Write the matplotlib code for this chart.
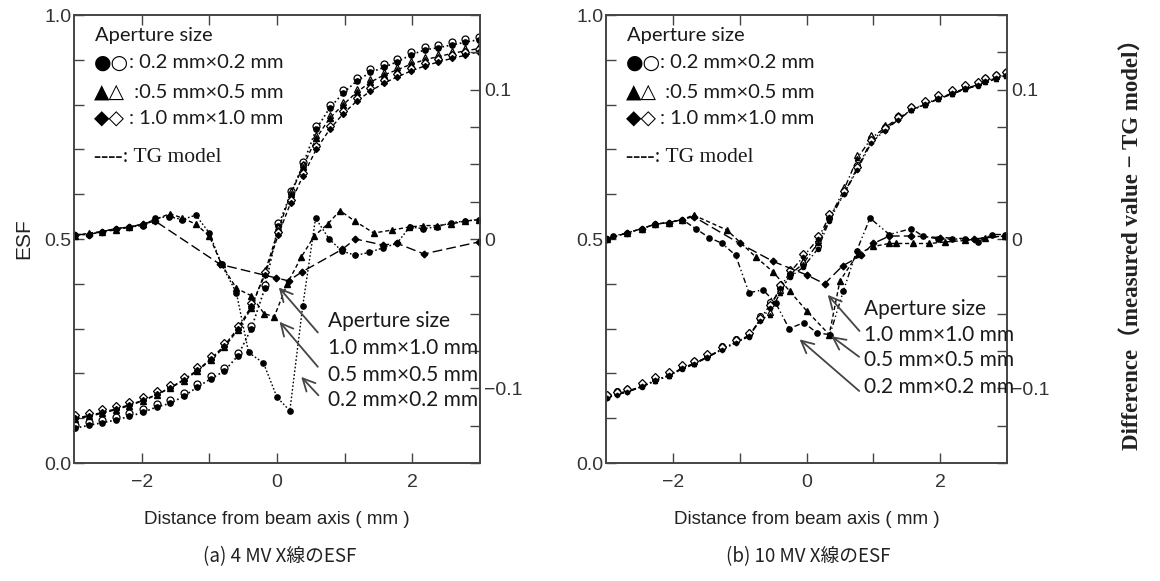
import matplotlib
matplotlib.use("Agg")
import matplotlib.pyplot as plt
from matplotlib.ticker import MultipleLocator, FixedLocator, FuncFormatter
from matplotlib.transforms import offset_copy

# ---------------- data: (a) 4 MV ----------------
x4 = [-2.98, -2.78, -2.58, -2.38, -2.18, -1.98, -1.78, -1.58, -1.38, -1.18, -0.98,
      -0.78, -0.58, -0.38, -0.18, 0.02, 0.20, 0.38, 0.58, 0.78, 0.98, 1.18, 1.38,
      1.58, 1.78, 1.98, 2.18, 2.38, 2.58, 2.78, 2.98]
esf4_02 = [0.078, 0.084, 0.090, 0.096, 0.104, 0.113, 0.125, 0.133, 0.149, 0.169, 0.188,
           0.205, 0.239, 0.300, 0.390, 0.530, 0.600, 0.665, 0.745, 0.793, 0.826, 0.853,
           0.872, 0.883, 0.896, 0.911, 0.922, 0.927, 0.933, 0.939, 0.945]
esf4_05 = [0.098, 0.104, 0.111, 0.119, 0.128, 0.139, 0.152, 0.167, 0.184, 0.205, 0.230,
           0.258, 0.297, 0.345, 0.425, 0.520, 0.600, 0.660, 0.725, 0.770, 0.800, 0.828,
           0.850, 0.866, 0.878, 0.890, 0.900, 0.907, 0.914, 0.920, 0.925]
esf4_10 = [0.100, 0.106, 0.113, 0.121, 0.130, 0.140, 0.153, 0.168, 0.186, 0.207, 0.232,
           0.262, 0.300, 0.350, 0.420, 0.510, 0.580, 0.640, 0.700, 0.745, 0.780, 0.808,
           0.830, 0.848, 0.862, 0.875, 0.886, 0.895, 0.903, 0.910, 0.918]

dx4_02 = [-2.98, -2.78, -2.58, -2.38, -2.18, -1.98, -1.80, -1.60, -1.40, -1.20, -1.00,
          -0.82, -0.60, -0.42, -0.20, 0.00, 0.19, 0.38, 0.57, 0.77, 0.96, 1.16, 1.36,
          1.56, 1.77, 1.96, 2.16, 2.36, 2.57, 2.78, 2.98]
d4_02 = [0.003, 0.003, 0.005, 0.007, 0.008, 0.009, 0.014, 0.015, 0.013, 0.016, 0.004,
         -0.017, -0.036, -0.076, -0.083, -0.106, -0.115, -0.045, 0.014, 0.000, -0.008,
         -0.011, -0.009, -0.006, -0.003, 0.008, 0.007, 0.008, 0.011, 0.012, 0.013]
dx4_05 = [-2.98, -2.78, -2.58, -2.38, -2.18, -1.98, -1.80, -1.58, -1.40, -1.20, -1.00,
          -0.82, -0.60, -0.38, -0.19, -0.04, 0.15, 0.36, 0.55, 0.75, 0.93, 1.15, 1.43,
          1.70, 1.95, 2.16, 2.36, 2.57, 2.78, 2.98]
d4_05 = [0.002, 0.004, 0.005, 0.006, 0.008, 0.010, 0.013, 0.017, 0.014, 0.010, 0.002,
         -0.017, -0.033, -0.038, -0.050, -0.052, -0.030, -0.012, 0.002, 0.010, 0.019,
         0.012, 0.004, 0.006, 0.008, 0.009, 0.009, 0.010, 0.012, 0.013]
dx4_10 = [-2.98, -2.78, -2.58, -2.38, -2.18, -1.98, -1.80, -0.84, -0.02, 0.17, 0.37,
          0.96, 1.16, 1.56, 1.78, 2.17, 2.98]
d4_10 = [0.003, 0.003, 0.005, 0.007, 0.008, 0.010, 0.012, -0.017, -0.026, -0.028,
         -0.022, -0.007, 0.000, -0.004, -0.003, -0.010, -0.002]

# ---------------- data: (b) 10 MV ----------------
x10 = [-2.99, -2.84, -2.69, -2.46, -2.26, -2.06, -1.86, -1.69, -1.49, -1.26, -1.06,
       -0.86, -0.69, -0.55, -0.40, -0.25, -0.05, 0.17, 0.34, 0.56, 0.76, 0.97, 1.17,
       1.37, 1.57, 1.77, 1.97, 2.17, 2.37, 2.56, 2.67, 2.84, 2.98]
esf10_02 = [0.146, 0.153, 0.158, 0.170, 0.184, 0.194, 0.210, 0.220, 0.235, 0.254, 0.269,
            0.282, 0.322, 0.352, 0.385, 0.415, 0.437, 0.478, 0.540, 0.601, 0.659, 0.719,
            0.744, 0.767, 0.789, 0.800, 0.813, 0.824, 0.835, 0.842, 0.852, 0.859, 0.865]
esf10_05 = [0.148, 0.155, 0.160, 0.171, 0.183, 0.195, 0.212, 0.222, 0.236, 0.255, 0.270,
            0.285, 0.320, 0.330, 0.380, 0.420, 0.445, 0.490, 0.545, 0.610, 0.680, 0.725,
            0.748, 0.770, 0.787, 0.800, 0.812, 0.823, 0.834, 0.843, 0.850, 0.857, 0.864]
esf10_10 = [0.145, 0.152, 0.159, 0.171, 0.185, 0.196, 0.211, 0.221, 0.236, 0.253, 0.268,
            0.284, 0.318, 0.345, 0.390, 0.425, 0.460, 0.500, 0.550, 0.600, 0.655, 0.715,
            0.742, 0.766, 0.788, 0.801, 0.814, 0.825, 0.836, 0.844, 0.853, 0.860, 0.866]

dx10_02 = [-2.99, -2.89, -2.69, -2.46, -2.26, -2.06, -1.86, -1.66, -1.46, -1.26, -1.06,
           -0.86, -0.65, -0.46, -0.26, -0.04, 0.16, 0.35, 0.55, 0.75, 0.95, 1.24, 1.57,
           1.74, 1.97, 2.17, 2.37, 2.56, 2.77, 2.97]
d10_02 = [0.000, 0.002, 0.004, 0.007, 0.010, 0.011, 0.013, 0.007, 0.001, -0.003, -0.011,
          -0.036, -0.034, -0.043, -0.060, -0.056, -0.063, -0.064, -0.035, -0.008, 0.014,
          0.003, 0.007, 0.002, 0.000, 0.000, 0.000, -0.002, 0.003, 0.003]
dx10_05 = [-2.99, -2.69, -2.46, -2.26, -2.06, -1.86, -1.69, -1.19, -0.76, -0.50, -0.25,
           0.00, 0.34, 0.50, 0.77, 1.00, 1.24, 1.34, 1.60, 1.84, 2.07, 2.37, 2.67, 2.97]
d10_05 = [0.000, 0.004, 0.007, 0.010, 0.011, 0.013, 0.016, 0.006, -0.012, -0.022, -0.035,
          -0.048, -0.064, -0.028, -0.010, -0.005, -0.003, -0.003, -0.003, -0.003, -0.002,
          -0.001, 0.001, 0.002]
dx10_10 = [-2.99, -2.69, -2.46, -2.26, -2.06, -1.86, -1.69, -1.00, -0.50, 0.00, 0.27,
           0.54, 0.82, 1.00, 1.24, 1.57, 2.00, 2.50, 2.97]
d10_10 = [0.000, 0.004, 0.007, 0.010, 0.011, 0.013, 0.015, -0.003, -0.015, -0.024, -0.030,
          -0.018, -0.011, -0.003, 0.002, 0.002, 0.001, 0.000, 0.002]

aperture_labels = ["1.0 mm\u00d71.0 mm", "0.5 mm\u00d70.5 mm", "0.2 mm\u00d70.2 mm"]
legend_symbols = ["\u25cf\u25cb", "\u25b2\u25b3", "\u25c6\u25c7"]
legend_texts = [": 0.2 mm\u00d70.2 mm", " :0.5 mm\u00d70.5 mm", ": 1.0 mm\u00d71.0 mm"]
captions = ["(a) 4 MV X線のESF", "(b) 10 MV X線のESF"]

# ---------------- figure ----------------
W, H = 1160, 581
fig = plt.figure(figsize=(W / 100, H / 100), dpi=100)
SANS = ["Liberation Sans", "DejaVu Sans"]
CAL = ["Lato", "DejaVu Sans"]
SYM = ["DejaVu Sans"]
SERIF = ["Liberation Serif", "Noto Sans CJK JP", "DejaVu Serif"]
CJK = ["Noto Sans CJK JP", "DejaVu Sans"]
SPINE = "#444444"
TXT = "#1a1a1a"


def frac(x0, y0, x1, y1):
    return [x0 / W, 1 - y1 / H, (x1 - x0) / W, (y1 - y0) / H]


def minus(s):
    return s.replace("-", "\u2212")


def setup(ax):
    ax.set_xlim(-3, 3)
    ax.set_ylim(0, 1)
    ax.xaxis.set_major_locator(FixedLocator([-2, 0, 2]))
    ax.xaxis.set_minor_locator(FixedLocator([-1, 1]))
    ax.yaxis.set_major_locator(FixedLocator([0, 0.5, 1.0]))
    ax.yaxis.set_minor_locator(MultipleLocator(0.1))
    ax.yaxis.set_major_formatter(FuncFormatter(lambda v, p: f"{v:.1f}"))
    ax.xaxis.set_major_formatter(FuncFormatter(lambda v, p: minus(f"{v:.0f}")))
    ax.tick_params(which="both", direction="in", top=True, right=False,
                   color=SPINE, length=7, width=1)
    ax.tick_params(which="major", labelsize=14, labelcolor="#333333")
    ax.tick_params(axis="x", which="major", pad=8)
    ax.tick_params(axis="y", which="major", pad=2)
    for lab in ax.get_xticklabels() + ax.get_yticklabels():
        lab.set_family(SANS)
    for s in ax.spines.values():
        s.set_color(SPINE)
        s.set_linewidth(1.2)
    tw = ax.twinx()
    tw.set_ylim(-0.15, 0.15)
    tw.yaxis.set_major_locator(FixedLocator([-0.1, 0, 0.1]))
    tw.yaxis.set_minor_locator(MultipleLocator(0.025))
    tw.yaxis.set_major_formatter(FuncFormatter(lambda v, p: "0" if abs(v) < 1e-9 else minus(f"{v:.1f}")))
    tw.tick_params(which="both", direction="in", color=SPINE, length=7, width=1)
    tw.tick_params(which="major", labelsize=14, labelcolor="#333333", pad=3)
    for lab in tw.get_yticklabels():
        lab.set_family(SANS)
    for s in tw.spines.values():
        s.set_color(SPINE)
        s.set_linewidth(1.2)
    ax.set_xlabel("Distance from beam axis ( mm )", fontsize=13.5, family=SANS,
                  color="#222222", labelpad=14)
    return tw


def esf_points(ax, x, y, marker, ms, ls, dashes=None, lw=1.0):
    kw = dict(color="black", lw=lw, ls=ls)
    if dashes is not None:
        kw["dashes"] = dashes
    ax.plot(x, y, **kw)
    up = offset_copy(ax.transData, fig=fig, x=0, y=3, units="dots")
    ax.plot(x, y, ls="none", marker=marker, ms=ms, mfc="white", mec="black",
            mew=0.9, transform=up)
    ax.plot(x, y, ls="none", marker=marker, ms=ms - 1.2, mfc="black", mec="black")


def diff_curve(tw, x, y, marker, ms, dashes, lw=1.0):
    tw.plot(x, y, color="black", lw=lw, dashes=dashes, marker=marker, ms=ms,
            mfc="black", mec="black")


axL = fig.add_axes(frac(74, 15, 480, 463))
axR = fig.add_axes(frac(606, 15, 1007, 463))
twL = setup(axL)
twR = setup(axR)
axL.set_ylabel("ESF", fontsize=15, family=SANS, color="#222222", labelpad=8)
twR.set_ylabel("Difference\uff08measured value \u2212 TG model\uff09", fontsize=16.5,
               family=SERIF, fontweight="bold", color="#222222", labelpad=52)

# --- (a) 4 MV ---
esf_points(axL, x4, esf4_02, "o", 5, ":", lw=1.2)
esf_points(axL, x4, esf4_05, "^", 5, "--", dashes=(3, 2))
esf_points(axL, x4, esf4_10, "D", 4.2, "--", dashes=(3, 2))
diff_curve(twL, dx4_02, d4_02, "o", 3.8, (1.2, 1.5))
diff_curve(twL, dx4_05, d4_05, "^", 4.2, (3, 2))
diff_curve(twL, dx4_10, d4_10, "D", 3.4, (7, 3))

# --- (b) 10 MV ---
esf_points(axR, x10, esf10_02, "o", 4.2, "-.", dashes=(4, 2, 1, 2))
esf_points(axR, x10, esf10_05, "^", 4.2, "-.", dashes=(4, 2, 1, 2))
esf_points(axR, x10, esf10_10, "D", 3.6, "-.", dashes=(4, 2, 1, 2))
diff_curve(twR, dx10_02, d10_02, "o", 3.8, (4, 2, 1, 2, 1, 2))
diff_curve(twR, dx10_05, d10_05, "^", 4.2, (3, 2))
diff_curve(twR, dx10_10, d10_10, "D", 3.4, (7, 3))

# --- legends (upper left, as text) ---
for ax in (axL, axR):
    ax.text(0.052, 0.955, "Aperture size", transform=ax.transAxes, fontsize=14.5,
            family=CAL, va="center", ha="left", color=TXT)
    for sym, txt, yy in zip(legend_symbols, legend_texts, [0.893, 0.828, 0.768]):
        ax.text(0.050, yy, sym, transform=ax.transAxes, fontsize=14.5, family=SYM,
                va="center", ha="left", color="black")
        ax.text(0.135, yy, txt, transform=ax.transAxes, fontsize=14.5, family=CAL,
                va="center", ha="left", color=TXT)
    ax.text(0.050, 0.683, "----: TG model", transform=ax.transAxes, fontsize=15.5,
            family=SERIF, va="center", ha="left", color=TXT)

# --- arrow annotations ---
def annotate(tw, xt, ys, tails, heads):
    tw.text(xt, ys[0], "Aperture size", fontsize=15, family=CAL, va="center",
            ha="left", color=TXT)
    for lab, yy, tail, head in zip(aperture_labels, ys[1:], tails, heads):
        tw.text(xt, yy, lab, fontsize=15, family=CAL, va="center", ha="left",
                color=TXT)
        tw.annotate("", xy=head, xytext=tail,
                    arrowprops=dict(arrowstyle="->", color="#444444", lw=1.3,
                                    mutation_scale=22))


annotate(twL, 0.76, [-0.055, -0.073, -0.091, -0.108],
         [(0.63, -0.064), (0.63, -0.087), (0.64, -0.106)],
         [(0.00, -0.031), (0.01, -0.054), (0.33, -0.091)])
annotate(twR, 0.86, [-0.047, -0.064, -0.081, -0.099],
         [(0.82, -0.063), (0.82, -0.080), (0.82, -0.103)],
         [(0.29, -0.036), (0.34, -0.064), (-0.135, -0.066)])

# --- captions ---
fig.text(280 / W, 1 - 557 / H, captions[0], fontsize=13.5, family=CJK, ha="center",
         va="center", color="#222222")
fig.text(808 / W, 1 - 557 / H, captions[1], fontsize=13.5, family=CJK, ha="center",
         va="center", color="#222222")

fig.savefig("out.png", dpi=100, facecolor="white")
